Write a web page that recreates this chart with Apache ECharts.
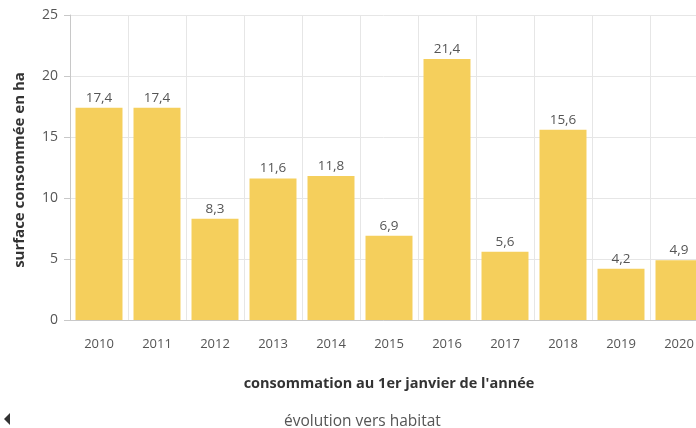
<!DOCTYPE html>
<html>
<head>
<meta charset="utf-8">
<script src="https://cdn.jsdelivr.net/npm/echarts@6/dist/echarts.min.js"></script>
<style>
  html, body { margin: 0; padding: 0; background: #fff; }
  #chart { width: 696px; height: 428px; }
</style>
</head>
<body>
<div id="chart"></div>
<script>
// années et surfaces consommées (ha)
var years = ['2010', '2011', '2012', '2013', '2014', '2015', '2016', '2017', '2018', '2019', '2020'];
var surfaces = [17.4, 17.4, 8.3, 11.6, 11.8, 6.9, 21.4, 5.6, 15.6, 4.2, 4.9];
var seriesName = 'évolution vers habitat';

var font = '"Open Sans", "Noto Sans", sans-serif';
var chart = echarts.init(document.getElementById('chart'));

chart.setOption({
    animation: false,
    textStyle: { fontFamily: font },
    grid: { left: 70, width: 638, top: 15, bottom: 108, outerBoundsMode: 'none', containLabel: false },
    legend: {
        top: 409,
        left: 274,
        icon: 'none',
        itemWidth: 0,
        itemGap: 0,
        selectedMode: false,
        textStyle: { color: '#555', fontSize: 15.5, fontFamily: font },
        data: [seriesName]
    },
    xAxis: {
        type: 'category',
        data: years,
        name: "consommation au 1er janvier de l'année",
        nameLocation: 'middle',
        nameGap: 56,
        nameTextStyle: { color: '#333', fontSize: 14.5, fontWeight: 'bold', fontFamily: font },
        axisLine: { lineStyle: { color: '#c8c8c8' } },
        axisTick: { alignWithLabel: true, length: 6, lineStyle: { color: '#c8c8c8' } },
        axisLabel: { color: '#555', fontSize: 13, margin: 18 },
        splitLine: { show: true, lineStyle: { color: '#e6e6e6' } }
    },
    yAxis: {
        type: 'value',
        min: 0,
        max: 25,
        interval: 5,
        name: 'surface consommée en ha',
        nameLocation: 'middle',
        nameGap: 43,
        nameTextStyle: { color: '#333', fontSize: 15, fontWeight: 'bold', fontFamily: font, padding: [0, 5, 0, 0] },
        axisLine: { show: true, lineStyle: { color: '#c8c8c8' } },
        axisTick: { show: true, length: 6, lineStyle: { color: '#c8c8c8' } },
        axisLabel: { color: '#555', fontSize: 14, margin: 12 },
        splitLine: { lineStyle: { color: '#e6e6e6' } }
    },
    series: [{
        name: seriesName,
        type: 'bar',
        data: surfaces,
        barCategoryGap: '19%',
        itemStyle: { color: '#f5cf5c' },
        label: {
            show: true,
            position: 'top',
            distance: 3,
            color: '#555',
            fontSize: 13.5,
            formatter: function (p) {
                return String(p.value).replace('.', ',');
            }
        }
    }],
    graphic: [{
        // flèche de pagination de la légende
        type: 'polygon',
        shape: { points: [[10, 413], [10, 425], [4, 419]] },
        style: { fill: '#333' }
    }]
});
</script>
</body>
</html>
